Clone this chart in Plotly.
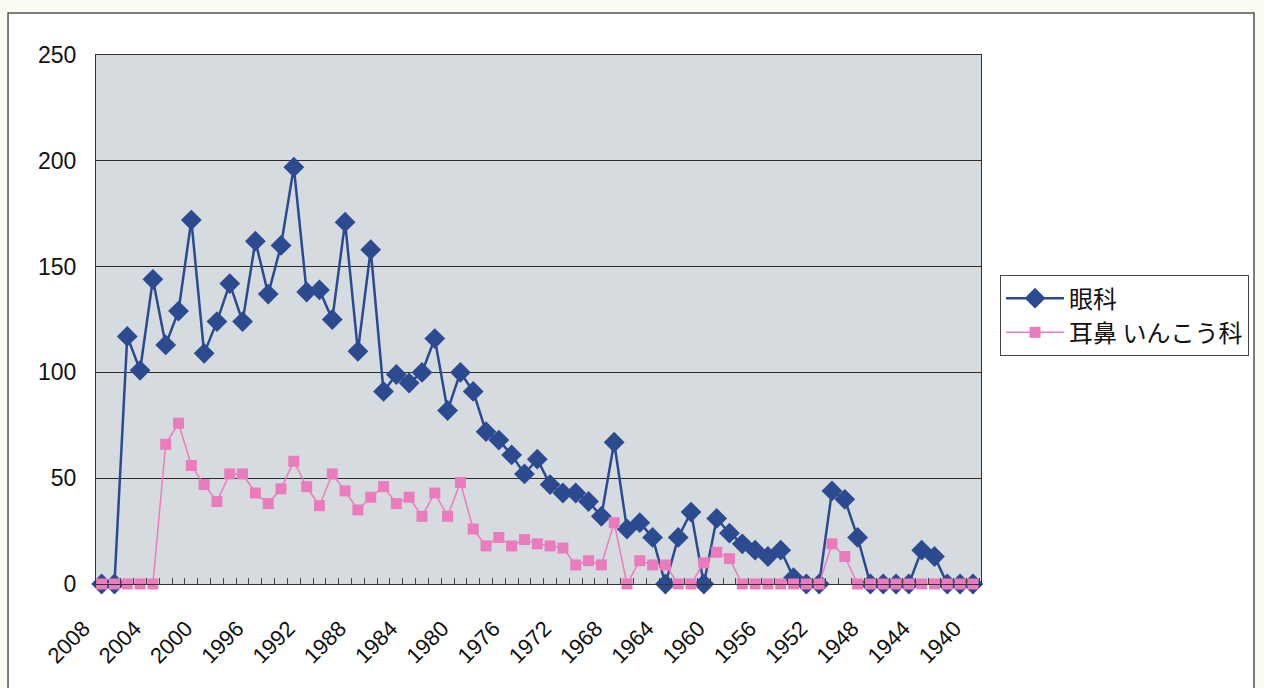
import plotly.graph_objects as go

# Years on the category axis (newest on the left)
years = list(range(2008, 1939, -1))

# 眼科
ganka = [0, 0, 117, 101, 144, 113, 129, 172, 109, 124,
         142, 124, 162, 137, 160, 197, 138, 139, 125, 171,
         110, 158, 91, 99, 95, 100, 116, 82, 100, 91,
         72, 68, 61, 52, 59, 47, 43, 43, 39, 32,
         67, 26, 29, 22, 0, 22, 34, 0, 31, 24,
         19, 16, 13, 16, 3, 0, 0, 44, 40, 22,
         0, 0, 0, 0, 16, 13, 0, 0, 0]

# 耳鼻いんこう科
jibi = [0, 0, 0, 0, 0, 66, 76, 56, 47, 39,
        52, 52, 43, 38, 45, 58, 46, 37, 52, 44,
        35, 41, 46, 38, 41, 32, 43, 32, 48, 26,
        18, 22, 18, 21, 19, 18, 17, 9, 11, 9,
        29, 0, 11, 9, 9, 0, 0, 10, 15, 12,
        0, 0, 0, 0, 0, 0, 0, 19, 13, 0,
        0, 0, 0, 0, 0, 0, 0, 0, 0]

label_years = [2008, 2004, 2000, 1996, 1992, 1988, 1984, 1980, 1976,
               1972, 1968, 1964, 1960, 1956, 1952, 1948, 1944, 1940]

y_ticks = [0, 50, 100, 150, 200, 250]

BLUE = "#2b4a90"
PINK = "#ea7cbd"
PLOT_BG = "#d6dbe0"
FONT = "Liberation Sans, Arial, sans-serif"
JP_FONT = "Noto Sans CJK JP, sans-serif"

fig = go.Figure()

fig.add_trace(go.Scatter(
    x=years, y=ganka, name="眼科", mode="lines+markers",
    line=dict(color=BLUE, width=2.5),
    marker=dict(symbol="diamond", size=16, color=BLUE),
    cliponaxis=False,
))
fig.add_trace(go.Scatter(
    x=years, y=jibi, name="耳鼻 いんこう科", mode="lines+markers",
    line=dict(color=PINK, width=1.5),
    marker=dict(symbol="square", size=11, color=PINK),
    cliponaxis=False,
))

# Minor tick marks sit between neighbouring years
between = [y - 0.5 for y in years[1:]]

fig.update_xaxes(
    range=[years[0] + 0.44, years[-1] - 0.63],
    tickmode="array", tickvals=label_years,
    ticktext=[str(v) for v in label_years],
    tickangle=-45, ticks="", showgrid=False, zeroline=False,
    tickfont=dict(family=FONT, size=22, color="#111"),
    showline=True, linecolor="#333", linewidth=1, mirror=True,
    minor=dict(tickmode="array", tickvals=between, ticks="inside",
               ticklen=6, tickcolor="#444", showgrid=False),
    ticklabelstandoff=22, ticklabelshift=18,
)
fig.update_yaxes(
    range=[0, 250], tickmode="array", tickvals=y_ticks,
    showgrid=True, gridcolor="#2a2a2a", gridwidth=1,
    zeroline=False, ticks="",
    tickfont=dict(family=FONT, size=23, color="#111"),
    showline=True, linecolor="#333", linewidth=1, mirror=True,
    ticklabelstandoff=14,
)

# Outer chart frame (white) and the grey plot area drawn over it
fig.add_shape(type="rect", xref="paper", yref="paper",
              x0=-0.0994, x1=1.3085, y0=-0.21, y1=1.0794,
              line=dict(color="#555", width=1.5), fillcolor="white",
              layer="below")
fig.add_shape(type="rect", xref="paper", yref="paper",
              x0=0, x1=1, y0=0, y1=1,
              line=dict(width=0), fillcolor=PLOT_BG, layer="below")

fig.update_layout(
    width=1264, height=688,
    margin=dict(l=96, r=283, t=55, b=104),
    paper_bgcolor="#fcfbf1",
    plot_bgcolor=PLOT_BG,
    showlegend=True,
    legend=dict(
        x=1.0215, y=0.584, xanchor="left", yanchor="top",
        bgcolor="white", bordercolor="#444", borderwidth=1,
        font=dict(family=JP_FONT, size=24, color="#111"),
        itemwidth=58, tracegroupgap=0,
    ),
)

fig.write_html("out.html")
